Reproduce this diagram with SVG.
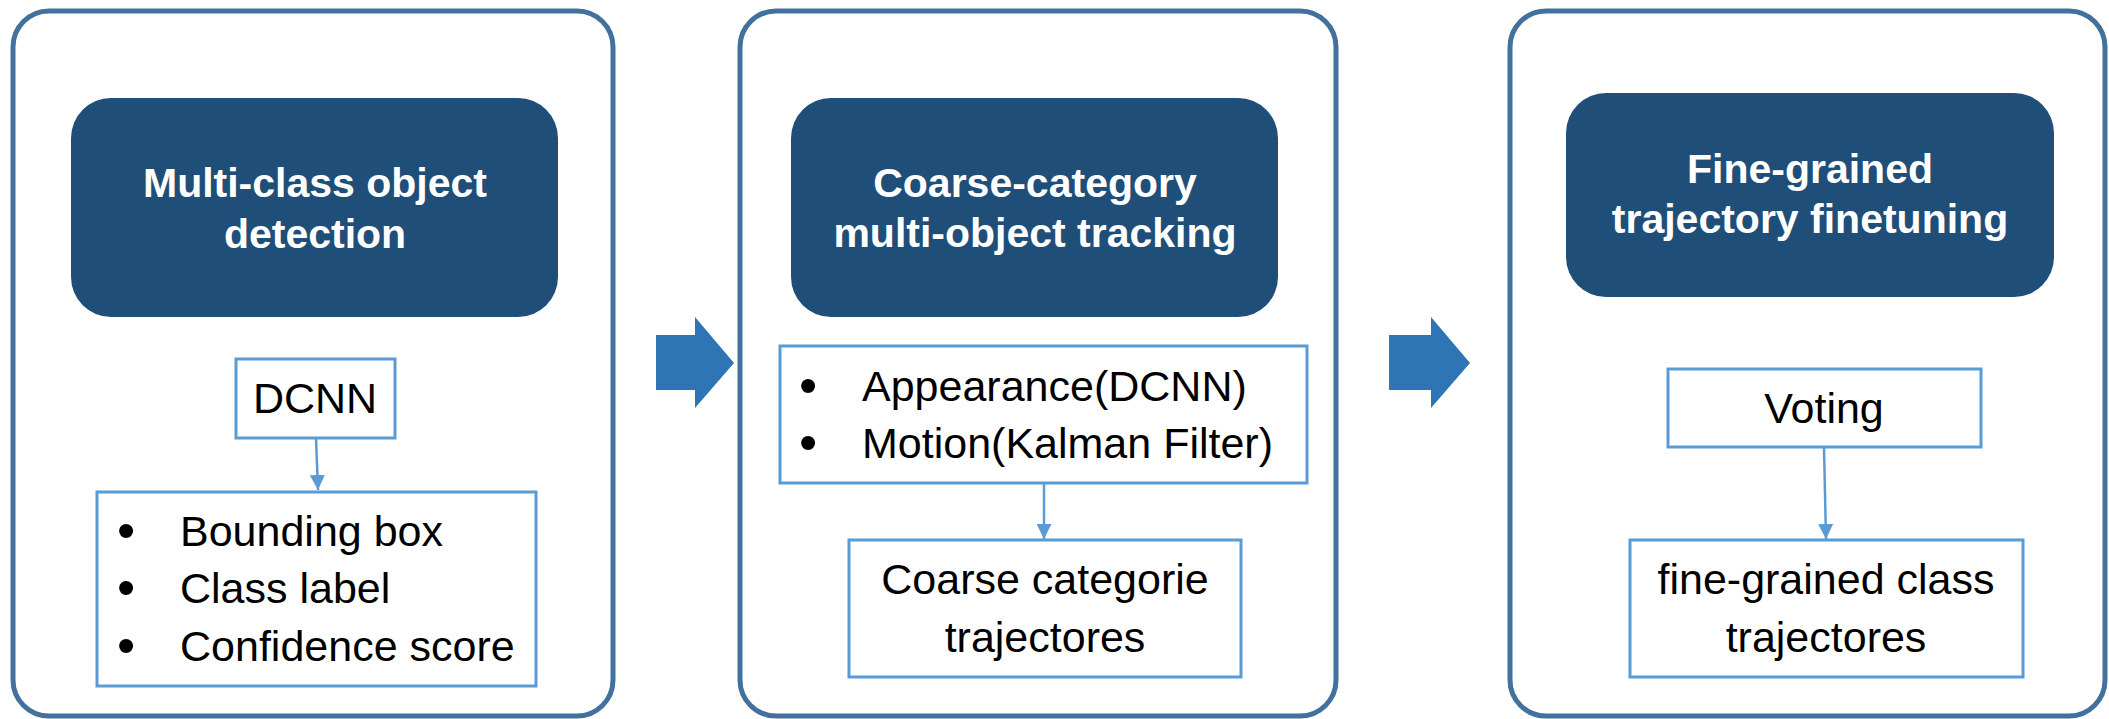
<svg xmlns="http://www.w3.org/2000/svg" width="2109" height="719" viewBox="0 0 2109 719">
<defs>
<style>
.frame{fill:#fff;stroke:#41719C;stroke-width:5}
.head{fill:#1F4E79}
.title{font-family:"Liberation Sans",Arial,sans-serif;font-weight:bold;font-size:41px;fill:#fff;text-anchor:middle}
.box{fill:#fff;stroke:#5B9BD5;stroke-width:3}
.txt{font-family:"Liberation Sans",Arial,sans-serif;font-size:43px;fill:#000}
.bul{font-family:"Liberation Sans",Arial,sans-serif;font-size:52px;fill:#000}
.mid{text-anchor:middle}
.conn{stroke:#5B9BD5;stroke-width:2.5;fill:none}
.block{fill:#2E75B6}
</style>
<marker id="ah" viewBox="0 0 10 10" refX="10" refY="5" markerWidth="6" markerHeight="6" markerUnits="strokeWidth" orient="auto">
<path d="M0,0 L10,5 L0,10 Z" fill="#5B9BD5"/>
</marker>
</defs>
<rect width="2109" height="719" fill="#fff"/>

<g id="stage1">
<rect class="frame" x="13" y="11" width="600" height="705" rx="36"/>
<g id="stage1-title">
<rect class="head" x="71" y="98" width="487" height="219" rx="40"/>
<text class="title" x="315" y="197">Multi-class object</text>
<text class="title" x="315" y="248">detection</text>
</g>
<g id="dcnn">
<rect class="box" x="236" y="359" width="159" height="79"/>
<text class="txt mid" x="315" y="413">DCNN</text>
</g>
<g id="det-output">
<rect class="box" x="97" y="492" width="439" height="194"/>
<text class="bul" x="117" y="548">•</text><text class="txt" x="180" y="546">Bounding box</text>
<text class="bul" x="117" y="605">•</text><text class="txt" x="180" y="603">Class label</text>
<text class="bul" x="117" y="663">•</text><text class="txt" x="180" y="661">Confidence score</text>
</g>
</g>

<g id="stage2">
<rect class="frame" x="740" y="11" width="596" height="705" rx="36"/>
<g id="stage2-title">
<rect class="head" x="791" y="98" width="487" height="219" rx="40"/>
<text class="title" x="1035" y="197">Coarse-category</text>
<text class="title" x="1035" y="247">multi-object tracking</text>
</g>
<g id="track-features">
<rect class="box" x="780" y="346" width="527" height="137"/>
<text class="bul" x="799" y="403">•</text><text class="txt" x="862" y="401">Appearance(DCNN)</text>
<text class="bul" x="799" y="460">•</text><text class="txt" x="862" y="458">Motion(Kalman Filter)</text>
</g>
<g id="coarse-traj">
<rect class="box" x="849" y="540" width="392" height="137"/>
<text class="txt mid" x="1045" y="594">Coarse categorie</text>
<text class="txt mid" x="1045" y="652">trajectores</text>
</g>
</g>

<g id="stage3">
<rect class="frame" x="1510" y="11" width="595" height="705" rx="36"/>
<g id="stage3-title">
<rect class="head" x="1566" y="93" width="488" height="204" rx="40"/>
<text class="title" x="1810" y="183">Fine-grained</text>
<text class="title" x="1810" y="233">trajectory finetuning</text>
</g>
<g id="voting">
<rect class="box" x="1668" y="369" width="313" height="78"/>
<text class="txt mid" x="1824" y="423">Voting</text>
</g>
<g id="fine-traj">
<rect class="box" x="1630" y="540" width="393" height="137"/>
<text class="txt mid" x="1826" y="594">fine-grained class</text>
<text class="txt mid" x="1826" y="652">trajectores</text>
</g>
</g>

<g id="connectors">
<line class="conn" x1="316" y1="438" x2="318" y2="490" marker-end="url(#ah)"/>
<line class="conn" x1="1044" y1="483" x2="1044" y2="539" marker-end="url(#ah)"/>
<line class="conn" x1="1824" y1="447" x2="1826" y2="539" marker-end="url(#ah)"/>
<polygon class="block" points="656,335 695,335 695,317 734,363 695,408 695,390 656,390"/>
<polygon class="block" points="1389,335 1431,335 1431,317 1470,363 1431,408 1431,390 1389,390"/>
</g>
</svg>
